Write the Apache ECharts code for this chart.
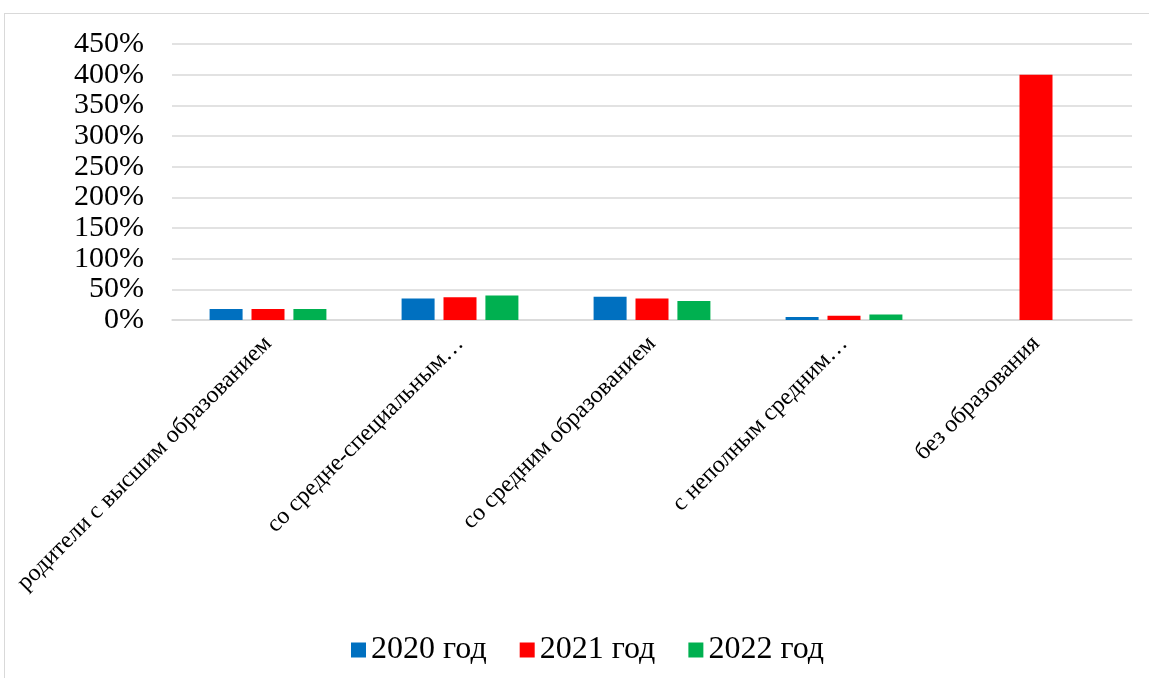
<!DOCTYPE html>
<html><head><meta charset="utf-8">
<script src="https://cdn.jsdelivr.net/npm/echarts@6/dist/echarts.min.js"></script>
<style>html,body{margin:0;padding:0;background:#fff}#c{width:1149px;height:678px;}
#frame{position:absolute;left:4px;top:13px;width:1160px;height:680px;border:1px solid #d9d9d9;pointer-events:none}</style>
</head><body><div id="frame"></div><div id="c"></div>
<script>
const categories = ["родители с высшим образованием","со средне-специальным…","со средним образованием","с неполным средним…","без образования"];
const seriesNames = ["2020 год","2021 год","2022 год"];
const values2020 = [18, 35, 38, 5, 0];
const values2021 = [18, 37, 35, 7, 400];
const values2022 = [18, 40, 31, 9, 0];
const colors = ["#0070c0","#ff0000","#00b050"];
const yTicks = [0,50,100,150,200,250,300,350,400,450];

const font = "'Liberation Serif','Times New Roman',serif";
const chart = echarts.init(document.getElementById('c'));
const data = [values2020, values2021, values2022];
chart.setOption({
  animation:false,
  grid:{left:172,right:17,top:44,bottom:358},
  legend:{top:629,left:346,itemWidth:15,itemHeight:15,itemGap:33,icon:'rect',
    textStyle:{fontFamily:font,fontSize:32,color:'#000'}},
  xAxis:{type:'category',data:categories,
    axisLine:{lineStyle:{color:'#d9d9d9',width:1.5}},axisTick:{show:false},
    axisLabel:{rotate:45,interval:0,fontFamily:font,fontSize:24,color:'#000',margin:20}},
  yAxis:{type:'value',min:yTicks[0],max:yTicks[yTicks.length-1],interval:50,
    axisLine:{show:false},axisTick:{show:false},
    splitLine:{lineStyle:{color:'#d9d9d9',width:1.5}},
    axisLabel:{formatter:'{value}%',fontFamily:font,fontSize:30,color:'#000',margin:28,
      showMinLabel:true,showMaxLabel:true,hideOverlap:false}},
  series: seriesNames.map((n,i)=>({name:n,type:'bar',data:data[i],barWidth:33,barGap:'27%',
    itemStyle:{color:colors[i]}}))
});
</script></body></html>
